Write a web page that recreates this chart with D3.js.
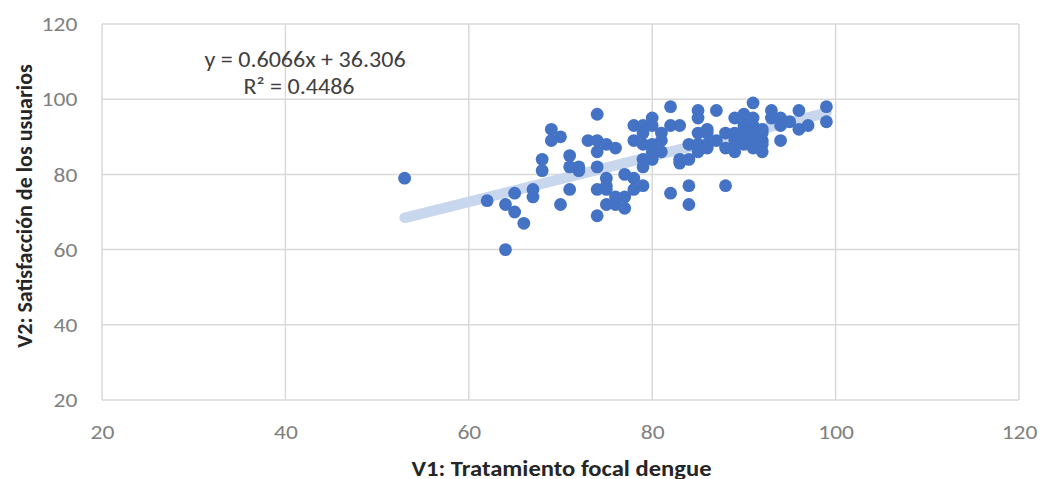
<!DOCTYPE html>
<html><head><meta charset="utf-8">
<script src="https://cdn.jsdelivr.net/npm/d3@7"></script>
<style>
html,body{margin:0;padding:0;background:#fff;}
svg{display:block;font-family:Carlito,"Liberation Sans Narrow","Open Sans",sans-serif;}
</style></head>
<body>
<svg id="chart" width="1041" height="479"></svg>
<script>
// V1: Tratamiento focal dengue (x) and V2: Satisfacción de los usuarios (y)
const xValues = [53,62,64,64,65,65,66,67,67,68,68,69,69,70,70,71,71,71,72,72,73,
  74,74,74,74,74,74,75,75,75,75,75,76,76,76,77,77,77,78,78,78,78,
  79,79,79,79,79,79,80,80,80,80,80,81,81,81,82,82,82,83,83,83,84,84,84,84,
  85,85,85,85,85,86,86,86,86,87,87,88,88,88,89,89,89,89,90,90,90,90,90,
  91,91,91,91,91,91,92,92,92,92,92,93,93,94,94,94,95,96,96,97,99,99];
const yValues = [79,73,72,60,75,70,67,76,74,84,81,92,89,90,72,85,82,76,82,81,89,
  96,89,86,82,76,69,88,79,77,76,72,87,72,74,80,74,71,93,89,79,76,
  93,91,88,84,82,77,95,93,88,86,84,91,89,86,98,93,75,93,84,83,88,84,77,72,
  97,95,91,88,86,92,91,88,87,97,89,91,87,77,95,91,89,86,96,93,91,89,88,
  99,95,93,91,89,87,92,91,89,88,86,97,95,95,93,89,94,97,92,93,98,94];
const xTicks = [20,40,60,80,100,120];
const yTicks = [20,40,60,80,100,120];
const slope = 0.6066, intercept = 36.306;
const equationLabel = "y = 0.6066x + 36.306";
const r2Label = "R² = 0.4486";
const xTitle = "V1: Tratamiento focal dengue";
const yTitle = "V2: Satisfacción de los usuarios";

const svg = d3.select("#chart");
const pLeft = 102, pRight = 1019, pTop = 24, pBottom = 400;
const stretch = 1.12;
const x = d3.scaleLinear().domain([20,120]).range([pLeft,pRight]);
const y = d3.scaleLinear().domain([20,120]).range([pBottom,pTop]);

// gridlines
const grid = svg.append("g");
grid.selectAll(".gx").data(xTicks).join("line")
  .attr("x1",d=>x(d)).attr("x2",d=>x(d)).attr("y1",pTop).attr("y2",pBottom)
  .attr("stroke","#d9d9d9").attr("stroke-width",1.5);
grid.selectAll(".gy").data(yTicks).join("line")
  .attr("x1",pLeft).attr("x2",pRight).attr("y1",d=>y(d)).attr("y2",d=>y(d))
  .attr("stroke","#d9d9d9").attr("stroke-width",1.5);

// axes (labels only)
const xAxis = svg.append("g").attr("transform",`translate(0,${pBottom})`)
  .call(d3.axisBottom(x).tickValues(xTicks).tickSize(0).tickPadding(24));
xAxis.select(".domain").remove();
xAxis.attr("font-family",null).attr("font-size",null);
xAxis.selectAll("text").attr("fill","#808080").style("font-size","21px")
  .attr("transform",`scale(${stretch},1)`);
const yAxis = svg.append("g").attr("transform",`translate(${pLeft},0)`)
  .call(d3.axisLeft(y).tickValues(yTicks).tickSize(0).tickPadding(22));
yAxis.select(".domain").remove();
yAxis.attr("font-family",null).attr("font-size",null);
yAxis.selectAll("text").attr("fill","#808080").style("font-size","21px")
  .attr("transform",`scale(${stretch},1)`);

// trendline
const xMin = d3.min(xValues), xMax = d3.max(xValues);
svg.append("line")
  .attr("x1",x(xMin)).attr("y1",y(slope*xMin+intercept))
  .attr("x2",x(xMax)).attr("y2",y(slope*xMax+intercept))
  .attr("stroke","#c8d6ee").attr("stroke-width",10.5).attr("stroke-linecap","round");

// points
const pts = xValues.map((v,i)=>({x:v,y:yValues[i]}));
svg.append("g").selectAll("circle").data(pts).join("circle")
  .attr("cx",d=>x(d.x)).attr("cy",d=>y(d.y)).attr("r",6.4)
  .attr("fill","#4472c4");

// equation
svg.append("text").attr("transform",`translate(305,67) scale(${stretch},1)`).attr("text-anchor","middle")
  .attr("fill","#404040").style("font-size","21.5px").text(equationLabel);
svg.append("text").attr("transform",`translate(299,94) scale(${stretch},1)`).attr("text-anchor","middle")
  .attr("fill","#404040").style("font-size","21.5px").text(r2Label);

// axis titles
svg.append("text").attr("transform",`translate(${(pLeft+pRight)/2 + 1},476) scale(${stretch},1)`).attr("text-anchor","middle")
  .attr("fill","#262626").style("font-size","22px").style("font-weight","bold").text(xTitle);
svg.append("text").attr("transform",`translate(32,${(pTop+pBottom)/2 - 6}) rotate(-90)`)
  .attr("text-anchor","middle").attr("fill","#262626")
  .style("font-size","22px").style("font-weight","bold").text(yTitle);
</script>
</body></html>
